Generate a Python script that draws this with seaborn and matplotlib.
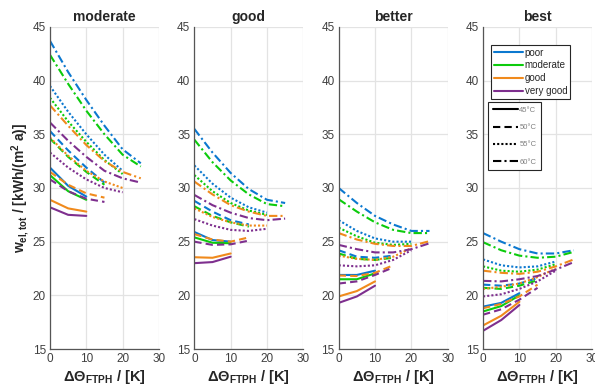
import matplotlib
matplotlib.use("Agg")
import matplotlib.pyplot as plt
from matplotlib.lines import Line2D
import numpy as np
import pandas as pd
import seaborn as sns

dT = [0, 5, 10, 15, 20, 25]
qualities = ["poor", "moderate", "good", "very good"]
temps = ["45°C", "50°C", "55°C", "60°C"]
panels = ["moderate", "good", "better", "best"]

# rows: poor, moderate, good, very good
moderate_45 = [[31.9, 30.2, 29.2], [31.2, 29.7, 28.9], [28.9, 28.1, 27.8], [28.2, 27.5, 27.4]]
moderate_50 = [[35.3, 33.5, 31.9, 30.5], [34.6, 32.9, 31.5, 30.3], [31.5, 30.3, 29.5, 29.1], [30.8, 29.7, 29.0, 28.7]]
moderate_55 = [[39.5, 37.1, 35.0, 33.1, 31.6], [38.4, 36.2, 34.3, 32.6, 31.3],
               [34.7, 33.0, 31.6, 30.6, 30.0], [33.3, 31.9, 30.8, 30.0, 29.6]]
moderate_60 = [[43.7, 40.8, 38.2, 35.8, 33.6, 32.3], [42.4, 39.7, 37.2, 35.0, 33.1, 32.0],
               [37.7, 35.8, 34.0, 32.5, 31.5, 30.9], [36.1, 34.4, 32.9, 31.6, 30.9, 30.5]]

good_45 = [[25.9, 25.15, 25.0], [25.4, 24.9, 24.85], [23.55, 23.5, 23.9], [23.0, 23.1, 23.6]]
good_50 = [[28.8, 27.8, 27.0, 26.6], [28.3, 27.4, 26.8, 26.4], [25.7, 25.2, 25.0, 25.4], [25.0, 24.7, 24.75, 25.1]]
good_55 = [[32.1, 30.4, 29.1, 28.2, 27.7], [31.2, 29.7, 28.6, 27.9, 27.5],
           [28.1, 27.3, 26.8, 26.5, 26.5], [27.1, 26.5, 26.1, 26.0, 26.2]]
good_60 = [[35.5, 33.3, 31.4, 29.9, 28.9, 28.6], [34.5, 32.4, 30.7, 29.4, 28.5, 28.3],
           [30.6, 29.4, 28.4, 27.8, 27.4, 27.4], [29.35, 28.4, 27.7, 27.2, 27.0, 27.15]]

better_45 = [[21.9, 21.9, 22.3], [21.5, 21.5, 22.05], [19.9, 20.4, 21.3], [19.3, 19.9, 20.9]]
better_50 = [[24.2, 23.6, 23.5, 23.7], [23.9, 23.4, 23.3, 23.5], [21.85, 21.8, 22.1, 22.8], [21.1, 21.3, 21.9, 22.6]]
better_55 = [[27.0, 26.0, 25.3, 25.0, 25.0], [26.3, 25.5, 24.9, 24.7, 24.8],
             [23.7, 23.4, 23.3, 23.6, 24.4], [22.8, 22.7, 22.8, 23.3, 24.2]]
better_60 = [[30.0, 28.6, 27.4, 26.6, 26.0, 26.0], [28.95, 27.8, 26.8, 26.1, 25.8, 25.8],
             [25.8, 25.2, 24.8, 24.6, 24.6, 25.05], [24.7, 24.3, 24.0, 24.0, 24.3, 24.85]]

best_45 = [[18.95, 19.3, 20.2], [18.5, 19.0, 20.0], [17.2, 18.1, 19.4], [16.7, 17.7, 19.1]]
best_50 = [[21.0, 20.9, 21.1, 21.6], [20.7, 20.6, 20.9, 21.4], [18.8, 19.2, 19.9, 21.0], [18.2, 18.7, 19.6, 20.7]]
best_55 = [[23.35, 22.8, 22.6, 22.7, 23.15], [22.7, 22.3, 22.2, 22.4, 22.9],
           [20.6, 20.8, 21.1, 21.7, 22.5], [19.9, 20.1, 20.6, 21.3, 22.3]]
best_60 = [[25.8, 25.0, 24.3, 23.9, 23.9, 24.2], [24.95, 24.2, 23.7, 23.5, 23.6, 24.05],
           [22.3, 22.1, 22.0, 22.2, 22.7, 23.35], [21.35, 21.3, 21.5, 21.8, 22.4, 23.1]]

panel_data = {
    "moderate": [moderate_45, moderate_50, moderate_55, moderate_60],
    "good": [good_45, good_50, good_55, good_60],
    "better": [better_45, better_50, better_55, better_60],
    "best": [best_45, best_50, best_55, best_60],
}

rows = []
for p in panels:
    for t, block in zip(temps, panel_data[p]):
        for q, vals in zip(qualities, block):
            for x, v in zip(dT, vals):
                rows.append({"panel": p, "temp": t, "quality": q, "dT": x, "w": v})
df = pd.DataFrame(rows)

colors = {"poor": "#0B78CF", "moderate": "#0CCB0C", "good": "#F08A1C", "very good": "#7E2F8E"}
dashes = {"45°C": "", "50°C": (3.5, 2), "55°C": (1, 1), "60°C": (4, 1.5, 1, 1.5)}

sns.set_style("whitegrid")
plt.rcParams["font.family"] = ["Liberation Sans", "DejaVu Sans"]
plt.rcParams["mathtext.fontset"] = "custom"
plt.rcParams["mathtext.rm"] = "Liberation Sans:bold"
plt.rcParams["mathtext.it"] = "Liberation Sans:bold"
plt.rcParams["mathtext.bf"] = "Liberation Sans:bold"

fig, axes = plt.subplots(1, 4, figsize=(5.95, 3.9), dpi=100)
fig.subplots_adjust(left=0.084, right=0.995, bottom=0.105, top=0.931, wspace=0.325)

for ax, p in zip(axes, panels):
    sub = df[df["panel"] == p]
    sns.lineplot(data=sub, x="dT", y="w", hue="quality", style="temp",
                 hue_order=qualities, style_order=temps, palette=colors,
                 dashes=dashes, linewidth=1.5, estimator=None, sort=False,
                 legend=False, ax=ax)
    ax.set_xlim(0, 30)
    ax.set_ylim(15, 45)
    ax.set_xticks([0, 10, 20, 30])
    ax.set_yticks([15, 20, 25, 30, 35, 40, 45])
    ax.grid(True, color="#e3e3e3", linewidth=0.9)
    for s in ["top", "right"]:
        ax.spines[s].set_visible(False)
    for s in ["left", "bottom"]:
        ax.spines[s].set_color("#555555")
        ax.spines[s].set_linewidth(0.9)
    ax.tick_params(axis="both", labelsize=8.5, colors="#404040", direction="in",
                   length=3, width=0.6, pad=3)
    ax.set_title(p, fontsize=10, fontweight="bold", pad=4)
    ax.set_xlabel(r"$\Delta\Theta_{FTPH}$ / [K]", fontsize=10.5, fontweight="bold", labelpad=2)
    ax.set_ylabel("")

axes[0].set_ylabel(r"$w_{el,tot}$ / [kWh/(m$^2$ a)]", fontsize=10, fontweight="bold", labelpad=1)

ax = axes[3]
h1 = [Line2D([], [], color=colors[q], lw=1.5) for q in qualities]
leg1 = ax.legend(h1, qualities, loc="upper left", bbox_to_anchor=(0.07, 0.945),
                 fontsize=7, handlelength=3.0, handletextpad=0.2, labelspacing=0.3,
                 borderpad=0.3, borderaxespad=0, fancybox=False, framealpha=1,
                 edgecolor="#262626")
leg1.get_frame().set_linewidth(0.8)
ax.add_artist(leg1)

h2 = [Line2D([], [], color="black", lw=1.5, linestyle="-")]
h2 += [Line2D([], [], color="black", lw=1.5, dashes=dashes[t]) for t in temps[1:]]
leg2 = ax.legend(h2, temps, loc="upper left", bbox_to_anchor=(0.045, 0.767),
                 fontsize=5.5, handlelength=3.3, handletextpad=0.2, labelspacing=1.3,
                 borderpad=0.6, borderaxespad=0, fancybox=False, framealpha=1,
                 edgecolor="#262626", labelcolor="#808080")
leg2.get_frame().set_linewidth(0.8)

fig.savefig("out.png", dpi=100)
